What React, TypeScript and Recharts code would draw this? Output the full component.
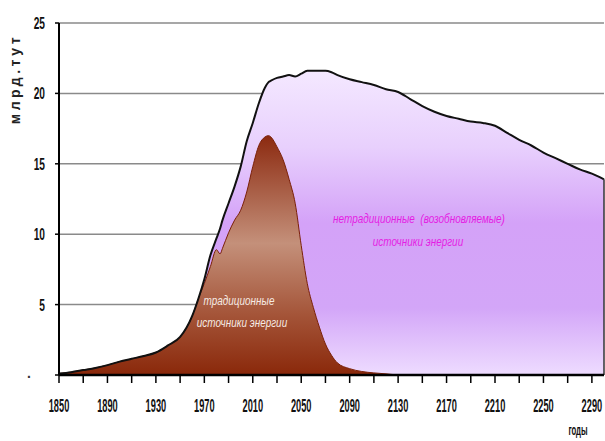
import {
  ComposedChart,
  Area,
  Line,
  XAxis,
  YAxis,
  CartesianGrid,
  ReferenceLine,
} from 'recharts';

// years on the horizontal axis
const YEARS = [
  1850, 1860, 1870, 1880, 1890, 1900, 1910, 1920, 1930, 1940, 1950, 1960, 1965,
  1970, 1975, 1980, 1983, 1985, 1990, 1995, 2000, 2005, 2010, 2015, 2020, 2023,
  2025, 2030, 2035, 2040, 2045, 2050, 2055, 2060, 2065, 2070, 2075, 2080, 2090,
  2100, 2110, 2120, 2130, 2140, 2150, 2160, 2170, 2180, 2190, 2200, 2210, 2220,
  2230, 2240, 2250, 2260, 2270, 2280, 2290, 2300,
];

// всего (верхняя чёрная линия), млрд т у.т.
const TOTAL = [
  0.1, 0.2, 0.35, 0.5, 0.7, 0.95, 1.15, 1.35, 1.6, 2.1, 2.7, 4.2, 5.4,
  6.8, 8.5, 9.7, 10.4, 11.0, 12.2, 13.4, 14.8, 16.6, 17.9, 19.3, 20.4, 20.8,
  20.9, 21.1, 21.2, 21.3, 21.2, 21.4, 21.6, 21.6, 21.6, 21.6, 21.5, 21.3, 21.0,
  20.8, 20.6, 20.3, 20.1, 19.6, 19.1, 18.7, 18.4, 18.2, 18.0, 17.9, 17.7, 17.2,
  16.7, 16.3, 15.8, 15.4, 15.0, 14.6, 14.3, 13.9,
];

// традиционные источники
const TRADITIONAL: (number | null)[] = [
  0.1, 0.2, 0.35, 0.5, 0.7, 0.95, 1.15, 1.35, 1.6, 2.1, 2.7, 4.2, 5.4,
  6.5, 7.7, 8.9, 8.6, 9.0, 10.1, 11.0, 11.7, 13.0, 14.8, 16.3, 16.9, 17.0,
  16.9, 16.2, 15.3, 13.9, 12.2, 9.2, 6.5, 4.8, 3.4, 2.2, 1.4, 0.85, 0.45,
  0.25, 0.15, 0.08, 0, null, null, null, null, null, null, null, null, null,
  null, null, null, null, null, null, null, null,
];

const X_TICKS = [
  1850, 1870, 1890, 1910, 1930, 1950, 1970, 1990, 2010, 2030, 2050, 2070, 2090,
  2110, 2130, 2150, 2170, 2190, 2210, 2230, 2250, 2270, 2290,
];
const X_LABELS = [
  1850, 1890, 1930, 1970, 2010, 2050, 2090, 2130, 2170, 2210, 2250, 2290,
];
const Y_TICKS = [0, 5, 10, 15, 20, 25];

const data = YEARS.map((year, i) => ({
  year,
  total: TOTAL[i],
  trad: TRADITIONAL[i],
}));

const font = "'Liberation Sans', Arial, sans-serif";

function XTick({ x, y, payload }: any) {
  if (!X_LABELS.includes(payload.value)) return null;
  return (
    <g transform={`translate(${x},${y + 27}) scale(0.5,1)`}>
      <text x={0} y={0} textAnchor="middle" fontFamily={font} fontWeight="bold" fontSize={18.5} fill="#111">
        {payload.value}
      </text>
    </g>
  );
}

function YTick({ x, y, payload }: any) {
  if (payload.value === 0) {
    return (
      <text x={x - 22} y={y + 3} textAnchor="end" fontFamily={font} fontWeight="bold" fontSize={14} fill="#333">
        .
      </text>
    );
  }
  return (
    <g transform={`translate(${x - 8},${y + 6}) scale(0.6,1)`}>
      <text x={0} y={0} textAnchor="end" fontFamily={font} fontWeight="bold" fontSize={17} fill="#111">
        {payload.value}
      </text>
    </g>
  );
}

export default function App() {
  return (
    <div style={{ position: 'absolute', left: 0, top: 0, width: 605, height: 441, background: '#fff' }}>
      <ComposedChart
        width={605}
        height={441}
        data={data}
        margin={{ top: 23, right: 1, bottom: 0, left: 0 }}
      >
        <defs>
          <linearGradient id="gradNew" x1="0" y1="0" x2="0" y2="1">
            <stop offset="0%" stopColor="#f4e8ff" />
            <stop offset="25%" stopColor="#e8d0fd" />
            <stop offset="50%" stopColor="#d4a2f8" />
            <stop offset="78%" stopColor="#d3a6f8" />
            <stop offset="100%" stopColor="#eedcff" />
          </linearGradient>
          <linearGradient id="gradOld" x1="0" y1="0" x2="0" y2="1">
            <stop offset="0%" stopColor="#8c2a10" />
            <stop offset="45%" stopColor="#c4907a" />
            <stop offset="75%" stopColor="#a45438" />
            <stop offset="100%" stopColor="#8a280a" />
          </linearGradient>
        </defs>
        <CartesianGrid vertical={false} stroke="#8a8a8a" strokeWidth={1.5} />
        <XAxis
          dataKey="year"
          type="number"
          domain={[1850, 2300]}
          ticks={X_TICKS}
          interval={0}
          tick={<XTick />}
          tickSize={8}
          height={66}
          axisLine={{ stroke: '#000', strokeWidth: 2.5 }}
          tickLine={{ stroke: '#000', strokeWidth: 1.5 }}
        />
        <YAxis
          domain={[0, 25]}
          ticks={Y_TICKS}
          width={59}
          tick={<YTick />}
          tickSize={4}
          axisLine={{ stroke: '#000', strokeWidth: 2 }}
          tickLine={{ stroke: '#000', strokeWidth: 1.5 }}
        />
        <Area
          dataKey="total"
          type="monotone"
          fill="url(#gradNew)"
          fillOpacity={1}
          stroke="none"
          isAnimationActive={false}
        />
        <Area
          dataKey="trad"
          type="monotone"
          fill="url(#gradOld)"
          fillOpacity={1}
          stroke="#7a2008"
          strokeWidth={1}
          isAnimationActive={false}
        />
        <Line
          dataKey="total"
          type="monotone"
          stroke="#111"
          strokeWidth={2}
          dot={false}
          isAnimationActive={false}
        />
        <ReferenceLine
          segment={[{ x: 2300, y: 0 }, { x: 2300, y: TOTAL[TOTAL.length - 1] }]}
          stroke="#333"
          strokeWidth={1.5}
        />
      </ComposedChart>
      <svg
        width={605}
        height={441}
        style={{ position: 'absolute', left: 0, top: 0, pointerEvents: 'none' }}
      >
        <g transform="translate(20,79) rotate(-90)">
          <text x={0} y={0} textAnchor="middle" fontFamily={font} fontWeight="bold" fontSize={14} letterSpacing={3.5} fill="#222">
            млрд.тут
          </text>
        </g>
        <g transform="translate(578,435) scale(0.55,1)">
          <text x={0} y={0} textAnchor="middle" fontFamily={font} fontWeight="bold" fontSize={14} fill="#111">
            годы
          </text>
        </g>
        <g transform="translate(239,305) scale(0.83,1)">
          <text x={0} y={0} textAnchor="middle" fontFamily={font} fontStyle="italic" fontSize={12} fill="#f6ebe4">
            традиционные
          </text>
        </g>
        <g transform="translate(242,327) scale(0.83,1)">
          <text x={0} y={0} textAnchor="middle" fontFamily={font} fontStyle="italic" fontSize={12} fill="#f6ebe4">
            источники энергии
          </text>
        </g>
        <g transform="translate(419,223) scale(0.83,1)">
          <text x={0} y={0} textAnchor="middle" fontFamily={font} fontStyle="italic" fontSize={12} fill="#e41ee4" xmlSpace="preserve">
            нетрадиционные  (возобновляемые)
          </text>
        </g>
        <g transform="translate(418,246) scale(0.83,1)">
          <text x={0} y={0} textAnchor="middle" fontFamily={font} fontStyle="italic" fontSize={12} fill="#e41ee4">
            источники энергии
          </text>
        </g>
      </svg>
    </div>
  );
}
